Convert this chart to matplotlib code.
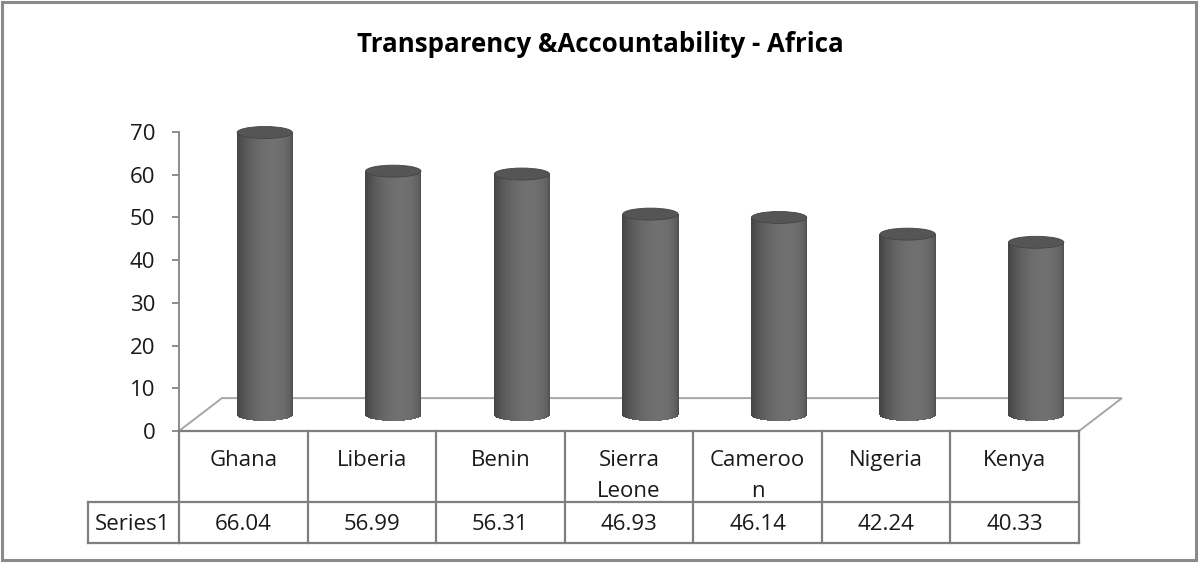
"""
Recreate the 'Transparency & Accountability - Africa' 3D cylinder chart
with its data table underneath, Excel style.
"""

import numpy as np
import matplotlib.pyplot as plt
import matplotlib.transforms as mtransforms
from matplotlib.lines import Line2D
from matplotlib.patches import Ellipse, Polygon, Rectangle


countries = ["Ghana", "Liberia", "Benin", "Sierra\nLeone", "Cameroo\nn", "Nigeria", "Kenya"]
values = [66.04, 56.99, 56.31, 46.93, 46.14, 42.24, 40.33]
y_ticks = [0, 10, 20, 30, 40, 50, 60, 70]
series_name = "Series1"
title = "Transparency &Accountability - Africa"

FONT = "Open Sans"
GRID = "#8c8c8c"
TABLE = "#7f7f7f"
TEXT = "#1a1a1a"

W, H = 1200, 563


def fx(px):
    return px / W


def fy(py):
    return 1 - py / H


fig = plt.figure(figsize=(12, 5.63), dpi=100)
plt.rcParams["font.family"] = [FONT, "DejaVu Sans"]

# plot area in pixel terms: x 179..1079, y 132 (70) .. 431 (0)
ax = fig.add_axes([fx(179), fy(431), fx(1079) - fx(179), fy(132) - fy(431)])
n = len(values)
ax.set_xlim(0, n)
ax.set_ylim(0, 70)

# depth of the 3D floor, in data units
depth_x = 0.334
depth_y = 7.7

floor = Polygon(
    [(0, 0), (n, 0), (n + depth_x, depth_y), (depth_x, depth_y)],
    closed=True, facecolor="white", edgecolor="#a6a6a6", lw=1.4,
    clip_on=False, zorder=1,
)
ax.add_patch(floor)

# cylinders: thin shaded strips around the front half, then a top cap
r = 0.215
e = 1.4
base = depth_y / 2
dark = np.array([0x3c, 0x3c, 0x3c]) / 255
light = np.array([0x70, 0x70, 0x70]) / 255
thetas = np.linspace(np.pi, 2 * np.pi, 90)
for i, v in enumerate(values):
    xc = i + 0.5 + depth_x / 2
    top = base + v
    for t0, t1 in zip(thetas[:-1], thetas[1:]):
        tm = (t0 + t1) / 2
        k = max(0.0, np.cos(tm - 1.6 * np.pi)) ** 1.2
        c = dark + (light - dark) * (0.2 + 0.8 * k)
        xa, xb = xc + r * np.cos(t0), xc + r * np.cos(t1)
        ya, yb = base + e * np.sin(t0), base + e * np.sin(t1)
        ax.add_patch(Polygon([(xa, ya), (xb, yb), (xb, top), (xa, top)],
                             closed=True, facecolor=c, edgecolor="none",
                             lw=0, antialiased=False,
                             clip_on=False, zorder=3))
    ax.add_patch(Ellipse((xc, top), 2 * r, 2 * e, facecolor="#555555",
                         edgecolor="#444444", lw=0.6, clip_on=False, zorder=4))

# axis
for side in ["top", "right", "bottom"]:
    ax.spines[side].set_visible(False)
ax.spines["left"].set_color(GRID)
ax.spines["left"].set_linewidth(1.4)
ax.set_yticks(y_ticks)
ax.set_xticks([])
ax.tick_params(axis="y", length=5, width=1.4, color=GRID, pad=12,
               labelsize=16, labelcolor=TEXT)
for lab in ax.get_yticklabels():
    lab.set_fontfamily(FONT)

# data table below the plot
trans = mtransforms.blended_transform_factory(ax.transData, fig.transFigure)
lw_t = 1.6
for y in [431, 502, 543]:
    fig.add_artist(Line2D([0, n], [fy(y), fy(y)], transform=trans,
                          color=TABLE, lw=lw_t))
fig.add_artist(Line2D([fx(88), fx(179)], [fy(502), fy(502)],
                      transform=fig.transFigure, color=TABLE, lw=lw_t))
fig.add_artist(Line2D([fx(88), fx(179)], [fy(543), fy(543)],
                      transform=fig.transFigure, color=TABLE, lw=lw_t))
fig.add_artist(Line2D([fx(88), fx(88)], [fy(502), fy(543)],
                      transform=fig.transFigure, color=TABLE, lw=lw_t))
for i in range(n + 1):
    fig.add_artist(Line2D([i, i], [fy(431), fy(543)], transform=trans,
                          color=TABLE, lw=lw_t))

for i, (name, v) in enumerate(zip(countries, values)):
    fig.text(i + 0.5, fy(450), name, transform=trans, ha="center", va="top",
             fontsize=16, color=TEXT, linespacing=1.6)
    fig.text(i + 0.5, fy(524), f"{v:.2f}", transform=trans, ha="center",
             va="center", fontsize=16, color=TEXT)
fig.text(fx(133), fy(524), series_name, ha="center", va="center",
         fontsize=16, color=TEXT)

fig.text(0.5, fy(45), title, ha="center", va="center", fontsize=18.6,
         fontweight="bold", color="black")

# outer chart border
fig.add_artist(Rectangle((fx(2), fy(560)), fx(1196) - fx(2), fy(2) - fy(560),
                         transform=fig.transFigure, fill=False,
                         edgecolor="#8a8a8a", lw=2.2))

fig.savefig("out.png", dpi=100, facecolor="white")
